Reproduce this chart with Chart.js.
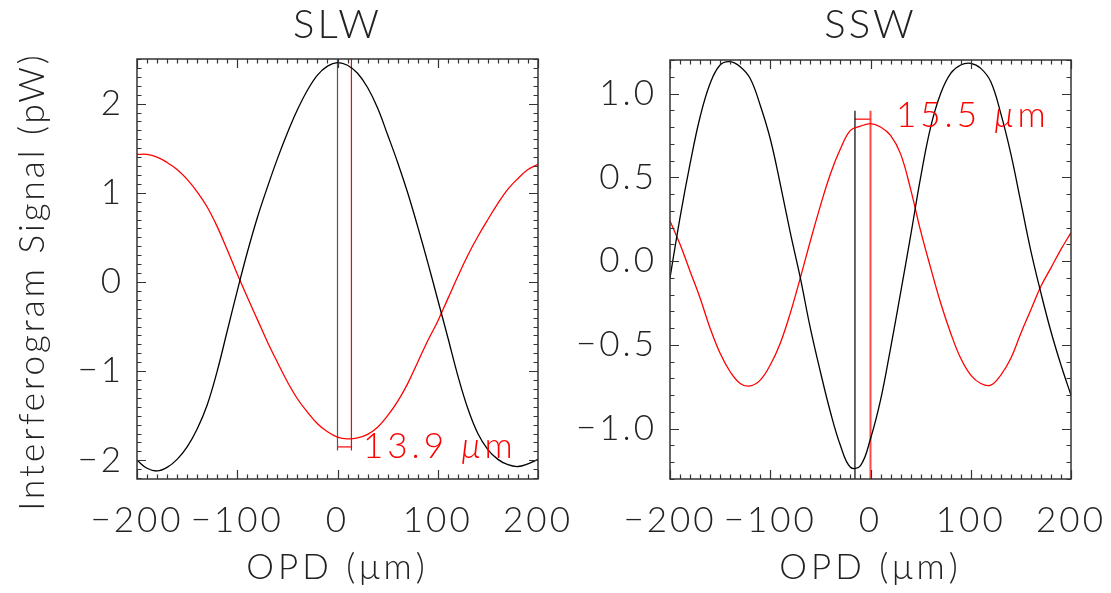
<!doctype html>
<html lang="en">
<head>
<meta charset="utf-8">
<title>SLW / SSW interferogram shift</title>
<script src="https://cdn.jsdelivr.net/npm/chart.js@4.4.1/dist/chart.umd.min.js"></script>
<style>
  html, body { margin: 0; padding: 0; background: #fff; overflow: hidden; }
  #wrap { position: relative; width: 1111px; height: 593px; }
  canvas { position: absolute; top: 0; }
</style>
</head>
<body>
<div id="wrap">
  <canvas id="slw" width="600" height="593" style="left:0"></canvas>
  <canvas id="ssw" width="556" height="593" style="left:555px"></canvas>
</div>
<script>
// optical path difference samples (um), shared by all four curves
var opd = [-200,-190,-180,-170,-160,-150,-140,-130,-120,-110,-100,-90,-80,-70,-60,-50,-40,-30,-20,-10,
           0,10,20,30,40,50,60,70,80,90,100,110,120,130,140,150,160,170,180,190,200];

// SLW interferograms (pW)
var slwBlack = [-2.00,-2.09,-2.12,-2.08,-1.99,-1.85,-1.65,-1.38,-1.00,-0.55,-0.10,0.33,0.72,1.06,1.38,1.67,1.93,2.15,2.32,2.42,
                2.46,2.43,2.34,2.18,1.95,1.65,1.34,1.00,0.62,0.22,-0.20,-0.62,-1.05,-1.42,-1.70,-1.88,-1.99,-2.05,-2.07,-2.04,-1.99];
var slwRed   = [1.43,1.43,1.40,1.34,1.26,1.15,1.01,0.84,0.62,0.36,0.09,-0.17,-0.42,-0.67,-0.90,-1.12,-1.31,-1.46,-1.59,-1.68,
                -1.74,-1.76,-1.75,-1.71,-1.63,-1.50,-1.34,-1.14,-0.90,-0.66,-0.44,-0.19,0.06,0.30,0.51,0.70,0.88,1.04,1.16,1.26,1.32];

// SSW interferograms (pW)
var sswBlack = [-0.10,0.26,0.58,0.86,1.06,1.17,1.19,1.16,1.09,0.93,0.73,0.46,0.17,-0.10,-0.40,-0.66,-0.90,-1.10,-1.23,-1.22,
                -1.06,-0.83,-0.52,-0.19,0.15,0.50,0.80,1.00,1.12,1.17,1.18,1.15,1.07,0.88,0.64,0.35,0.06,-0.19,-0.42,-0.62,-0.80];
var sswRed   = [0.24,0.10,-0.06,-0.22,-0.40,-0.55,-0.66,-0.73,-0.745,-0.71,-0.62,-0.49,-0.31,-0.10,0.12,0.33,0.52,0.67,0.78,0.805,
                0.82,0.80,0.75,0.64,0.43,0.18,-0.04,-0.25,-0.43,-0.58,-0.68,-0.73,-0.74,-0.68,-0.58,-0.43,-0.29,-0.15,-0.04,0.07,0.17];

// axis ranges and ticks
var xRange = [-200, 200];
var xTicks = [-200, -100, 0, 100, 200];
var xTickLabels = ['\u2212200', '\u2212100', '0', '100', '200'];
var slwRange = [-2.21, 2.50];
var slwTicks = [-2, -1, 0, 1, 2];
var slwTickLabels = ['\u22122', '\u22121', '0', '1', '2'];
var sswRange = [-1.30, 1.20];
var sswTicks = [-1, -0.5, 0, 0.5, 1];
var sswTickLabels = ['\u22121.0', '\u22120.5', '0.0', '0.5', '1.0'];

// zero-path markers: x of black and red lines, vertical extent, bracket height
var slwMarkX = [0, 13.9];
var slwMarkY = [2.50, -1.89];
var slwBarY = -1.85;
var sswMarkX = [-15.5, 0];
var sswMarkY = [0.897, -1.30];
var sswBarY = 0.847;

// shift labels: position (data units) and text pieces (true = italic)
var slwNote = { x: 25.4, y: -1.975, parts: [['13.9 ', false], ['\u03bc', true], ['m', false]] };
var sswNote = { x: 25.4, y: 0.80, parts: [['15.5 ', false], ['\u03bc', true], ['m', false]] };

var FONT = 'Lato';
var INK = '#222';

function pts(xs, ys) {
  return xs.map(function (x, i) { return { x: x, y: ys[i] }; });
}

function curve(values, color) {
  return { data: pts(opd, values), showLine: true, borderColor: color, borderWidth: 1.3,
           pointRadius: 0, tension: 0.4 };
}

function seg(x0, y0, x1, y1, color, w) {
  return { data: [{ x: x0, y: y0 }, { x: x1, y: y1 }], showLine: true, borderColor: color,
           borderWidth: w, pointRadius: 0 };
}

// wider letter spacing for an axis title (the Hershey-style font in the original is wide)
function spaceTitle(s, spacing) {
  if (s._spaced) return;
  var orig = s.drawTitle;
  s.drawTitle = function () {
    var c = this.ctx, old = c.letterSpacing;
    c.letterSpacing = spacing;
    orig.call(this);
    c.letterSpacing = old;
  };
  s._spaced = true;
}

// keep the plot box where it is: no extra room for overhanging tick labels
function noOverhang(s) {
  s.paddingLeft = 0; s.paddingRight = 0; s.paddingTop = 0; s.paddingBottom = 0;
}

// box and inward ticks on all four sides, plus the shift label
var framePlugin = {
  id: 'frame',
  beforeDraw: function (chart) { chart.ctx.letterSpacing = '3px'; },
  afterDraw: function (chart, args, o) {
    var ctx = chart.ctx, a = chart.chartArea, xs = chart.scales.x, ys = chart.scales.y;
    ctx.save();
    ctx.strokeStyle = '#333';
    ctx.lineWidth = 1.5;
    ctx.strokeRect(a.left, a.top, a.right - a.left, a.bottom - a.top);
    ctx.lineWidth = 1.2;
    ctx.beginPath();
    var k, v, p, len;
    for (k = Math.ceil(xs.min / o.xStep - 1e-6); k <= Math.floor(xs.max / o.xStep + 1e-6); k++) {
      v = k * o.xStep;
      len = Math.abs(v / o.xMajor - Math.round(v / o.xMajor)) < 1e-6 ? 9 : 4.5;
      p = Math.round(xs.getPixelForValue(v)) + 0.5;
      ctx.moveTo(p, a.bottom); ctx.lineTo(p, a.bottom - len);
      ctx.moveTo(p, a.top); ctx.lineTo(p, a.top + len);
    }
    for (k = Math.ceil(ys.min / o.yStep - 1e-6); k <= Math.floor(ys.max / o.yStep + 1e-6); k++) {
      v = k * o.yStep;
      len = Math.abs(v / o.yMajor - Math.round(v / o.yMajor)) < 1e-6 ? 9 : 4.5;
      p = Math.round(ys.getPixelForValue(v)) + 0.5;
      ctx.moveTo(a.left, p); ctx.lineTo(a.left + len, p);
      ctx.moveTo(a.right, p); ctx.lineTo(a.right - len, p);
    }
    ctx.stroke();

    var n = o.note, tx = xs.getPixelForValue(n.x), ty = ys.getPixelForValue(n.y);
    ctx.fillStyle = '#ff0000';
    ctx.textBaseline = 'alphabetic';
    ctx.textAlign = 'left';
    ctx.letterSpacing = '4px';
    n.parts.forEach(function (part) {
      ctx.font = (part[1] ? 'italic ' : '') + '300 35px ' + FONT;
      ctx.fillText(part[0], tx, ty);
      tx += ctx.measureText(part[0]).width;
    });
    ctx.restore();
  }
};

function makeChart(id, title, black, red, yRange, yTicks, yLabels, mx, my, barY, blackMarkColor,
                   redMarkColor, redMarkW, note, yMinor, yMajor, axisW, padRight, titleBottom, showYTitle) {
  return new Chart(document.getElementById(id), {
    type: 'scatter',
    data: {
      datasets: [
        curve(black, '#000000'),
        curve(red, '#ff0000'),
        seg(mx[0], my[0], mx[0], my[1], blackMarkColor, 1.2),
        seg(mx[1], my[0], mx[1], my[1], redMarkColor, redMarkW),
        seg(mx[0], barY, mx[1], barY, '#ff0000', 1.2)
      ]
    },
    options: {
      responsive: false,
      animation: false,
      devicePixelRatio: 1,
      layout: { autoPadding: false, padding: { left: 0, right: padRight, top: 0, bottom: 0 } },
      plugins: {
        legend: { display: false },
        tooltip: { enabled: false },
        title: {
          display: true, text: title, fullSize: false, color: INK,
          font: { family: FONT, size: 40, weight: '300', lineHeight: 1 },
          padding: { top: 5, bottom: titleBottom }
        },
        frame: { xStep: 10, xMajor: 100, yStep: yMinor, yMajor: yMajor, note: note }
      },
      scales: {
        x: {
          type: 'linear', min: xRange[0], max: xRange[1],
          afterBuildTicks: function (s) { s.ticks = xTicks.map(function (v) { return { value: v }; }); },
          afterFit: function (s) { s.height = 114; noOverhang(s); spaceTitle(s, '4px'); },
          grid: { display: false, drawTicks: false },
          border: { display: false },
          ticks: {
            autoSkip: false, maxRotation: 0, minRotation: 0, padding: 24, color: INK,
            font: { family: FONT, size: 35, weight: '300', lineHeight: 1 },
            callback: function (v, i) { return xTickLabels[i]; }
          },
          title: {
            display: true, text: 'OPD (\u03bcm)', color: INK,
            font: { family: FONT, size: 35, weight: '300', lineHeight: 1 },
            padding: { top: 0, bottom: 8 }
          }
        },
        y: {
          type: 'linear', min: yRange[0], max: yRange[1],
          afterBuildTicks: function (s) { s.ticks = yTicks.map(function (v) { return { value: v }; }); },
          afterFit: function (s) { s.width = axisW; noOverhang(s); spaceTitle(s, '3px'); },
          grid: { display: false, drawTicks: false },
          border: { display: false },
          ticks: {
            padding: 13, color: INK,
            font: { family: FONT, size: 35, weight: '300', lineHeight: 1 },
            callback: function (v, i) { return yLabels[i]; }
          },
          title: {
            display: showYTitle, text: 'Interferogram Signal (pW)  ', color: INK,
            font: { family: FONT, size: 35, weight: '300', lineHeight: 1 },
            padding: { top: 15, bottom: 0 }
          }
        }
      }
    },
    plugins: [framePlugin]
  });
}

makeChart('slw', 'SLW', slwBlack, slwRed, slwRange, slwTicks, slwTickLabels, slwMarkX, slwMarkY, slwBarY,
          '#555555', '#ff0000', 1.2, slwNote, 0.1, 1, 137, 62, 14, true);
makeChart('ssw', 'SSW', sswBlack, sswRed, sswRange, sswTicks, sswTickLabels, sswMarkX, sswMarkY, sswBarY,
          '#000000', 'rgba(255,40,40,0.85)', 2, sswNote, 0.1, 0.5, 115, 40, 15, false);
</script>
</body>
</html>
